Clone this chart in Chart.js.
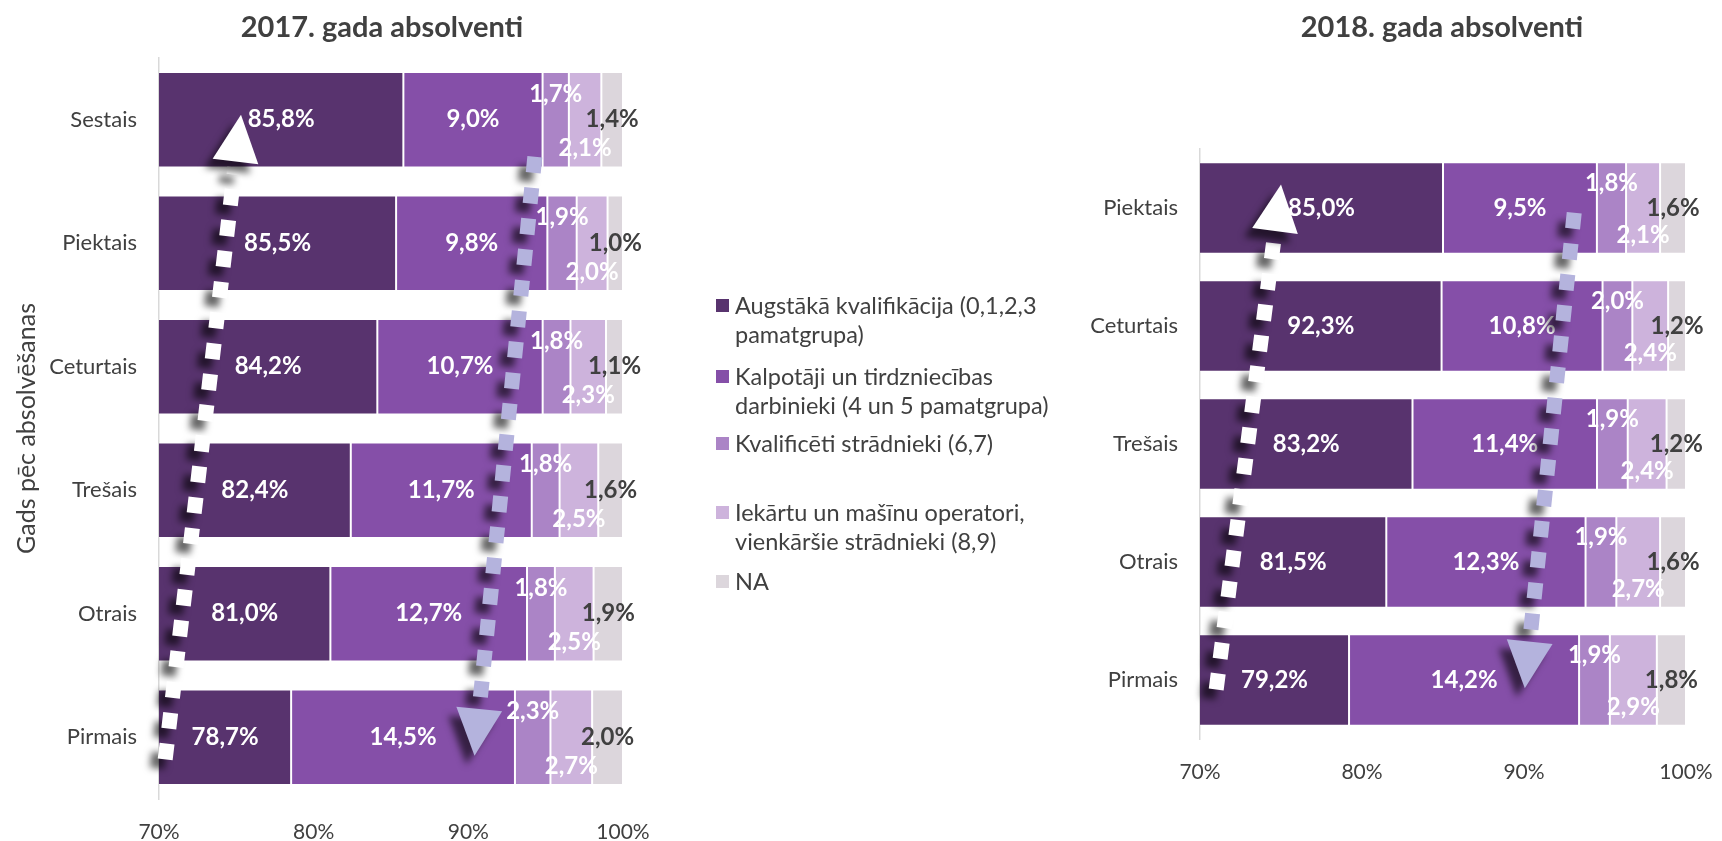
<!DOCTYPE html>
<html>
<head>
<meta charset="utf-8">
<script src="https://cdn.jsdelivr.net/npm/chart.js@4.4.1/dist/chart.umd.min.js"></script>
<style>
  body { margin: 0; background: #fff; font-family: Lato, sans-serif; }
  #wrap { position: relative; width: 1722px; height: 841px; overflow: hidden; }
  canvas { position: absolute; top: 0; }
  .title { position: absolute; top: 8px; font: bold 29px Lato; color: #404040; transform: translateX(-50%); white-space: nowrap; }
  .leg { position: absolute; left: 716px; font: 23.5px Lato; color: #404040; line-height: 29px; white-space: nowrap; }
  .leg i { position: absolute; left: 0; top: 8px; width: 13px; height: 13px; }
  .leg span { display: block; margin-left: 19px; }
</style>
</head>
<body>
<div id="wrap">
  <canvas id="chart2017" width="660" height="841" style="left:0"></canvas>
  <canvas id="chart2018" width="722" height="841" style="left:1000px"></canvas>
  <div class="title" style="left:382px">2017. gada absolventi</div>
  <div class="title" style="left:1442px">2018. gada absolventi</div>
  <div id="legend"></div>
</div>
<script>
// Series names and colours
const seriesNames = [
    'Augstākā kvalifikācija (0,1,2,3|pamatgrupa)',
    'Kalpotāji un tirdzniecības|darbinieki (4 un 5 pamatgrupa)',
    'Kvalificēti strādnieki (6,7)',
    'Iekārtu un mašīnu operatori,|vienkāršie strādnieki (8,9)',
    'NA'
];
const seriesColors = ['#58336e', '#854fa8', '#ab84c6', '#cdb3dc', '#dcd6dc'];

// 2017 graduates (top to bottom)
const categories2017 = ['Sestais', 'Piektais', 'Ceturtais', 'Trešais', 'Otrais', 'Pirmais'];
const augstaka2017 = [85.8, 85.5, 84.2, 82.4, 81.0, 78.7];
const kalpotaji2017 = [9.0, 9.8, 10.7, 11.7, 12.7, 14.5];
const kvalificeti2017 = [1.7, 1.9, 1.8, 1.8, 1.8, 2.3];
const iekartu2017 = [2.1, 2.0, 2.3, 2.5, 2.5, 2.7];
const na2017 = [1.4, 1.0, 1.1, 1.6, 1.9, 2.0];

// 2018 graduates (top to bottom)
const categories2018 = ['Piektais', 'Ceturtais', 'Trešais', 'Otrais', 'Pirmais'];
const augstaka2018 = [85.0, 92.3, 83.2, 81.5, 79.2];
const kalpotaji2018 = [9.5, 10.8, 11.4, 12.3, 14.2];
const kvalificeti2018 = [1.8, 2.0, 1.9, 1.9, 1.9];
const iekartu2018 = [2.1, 2.4, 2.4, 2.7, 2.9];
const na2018 = [1.6, 1.2, 1.2, 1.6, 1.8];

const xTicks = [70, 80, 90, 100];

// Trend arrows: [percent, category index] for start and tip
const whiteArrow2017 = [[70.4, 5.18], [75.3, -0.04]];
const blueArrow2017 = [[94.3, 0.3], [90.4, 5.15]];
const whiteArrow2018 = [[71.0, 4.08], [75.0, -0.2]];
const blueArrow2018 = [[93.1, 0.04], [90.05, 4.07]];

// Legend
const legendTops = [291, 362, 429, 498, 567];
document.getElementById('legend').innerHTML = seriesNames.map((name, i) =>
    '<div class="leg" style="top:' + legendTops[i] + 'px"><i style="background:' + seriesColors[i] + '"></i>' +
    name.split('|').map(t => '<span>' + t + '</span>').join('') + '</div>'
).join('');

function fmt(v) {
    return v.toFixed(1).replace('.', ',') + '%';
}

// Value labels, placed like the original
const labelPlugin = {
    id: 'valueLabels',
    afterDatasetsDraw(chart) {
        const ctx = chart.ctx;
        const area = chart.chartArea;
        ctx.save();
        ctx.font = 'bold 24px Lato';
        ctx.textAlign = 'center';
        ctx.textBaseline = 'middle';
        chart.data.datasets.forEach((ds, i) => {
            chart.getDatasetMeta(i).data.forEach((bar, j) => {
                const p = bar.getProps(['x', 'y', 'base', 'height'], true);
                let x = (Math.max(p.base, area.left) + p.x) / 2;
                let y = p.y;
                if (i === 2) y -= p.height * 0.27;
                if (i === 3) y += p.height * 0.30;
                ctx.fillStyle = i === 4 ? '#404040' : '#ffffff';
                ctx.fillText(fmt(ds.raw[j]), x, y);
            });
        });
        ctx.restore();
    }
};

function drawArrow(chart, pts, color) {
    const ctx = chart.ctx;
    const xs = chart.scales.x, ys = chart.scales.y;
    const x0 = xs.getPixelForValue(pts[0][0]), y0 = ys.getPixelForValue(pts[0][1]);
    const x1 = xs.getPixelForValue(pts[1][0]), y1 = ys.getPixelForValue(pts[1][1]);
    const len = Math.hypot(x1 - x0, y1 - y0);
    const ux = (x1 - x0) / len, uy = (y1 - y0) / len;
    const headLen = 47, headHalf = 23;
    const bx = x1 - ux * headLen, by = y1 - uy * headLen;
    ctx.save();
    ctx.shadowColor = 'rgba(0,0,0,0.6)';
    ctx.shadowBlur = 7;
    ctx.shadowOffsetX = -8;
    ctx.shadowOffsetY = 9;
    ctx.strokeStyle = color;
    ctx.fillStyle = color;
    ctx.lineWidth = 15;
    ctx.lineCap = 'butt';
    ctx.setLineDash([16, 15]);
    ctx.beginPath();
    ctx.moveTo(x0, y0);
    ctx.lineTo(bx - ux * 6, by - uy * 6);
    ctx.stroke();
    ctx.setLineDash([]);
    ctx.beginPath();
    ctx.moveTo(x1, y1);
    ctx.lineTo(bx - uy * headHalf, by + ux * headHalf);
    ctx.lineTo(bx + uy * headHalf, by - ux * headHalf);
    ctx.closePath();
    ctx.fill();
    ctx.restore();
}

function makeChart(id, cats, values, arrows, box) {
    const totals = cats.map((c, j) => values.reduce((s, v) => s + v[j], 0));
    return new Chart(document.getElementById(id), {
        type: 'bar',
        data: {
            labels: cats,
            datasets: values.map((v, i) => ({
                label: seriesNames[i].replace('|', ' '),
                data: v.map((val, j) => val / totals[j] * 100),
                raw: v,
                backgroundColor: seriesColors[i],
                borderColor: 'rgba(255,255,255,0.45)',
                borderWidth: 1,
                borderSkipped: false,
                categoryPercentage: 1,
                barPercentage: 0.775,
                clip: 0
            }))
        },
        options: {
            indexAxis: 'y',
            responsive: false,
            animation: false,
            layout: { padding: { top: box.top, right: box.right, left: 0, bottom: 0 } },
            plugins: {
                legend: { display: false },
                tooltip: { enabled: false }
            },
            scales: {
                x: {
                    stacked: true,
                    min: 70,
                    max: 100,
                    afterBuildTicks: s => { s.ticks = xTicks.map(v => ({ value: v })); },
                    ticks: { callback: v => v + '%', color: '#404040', font: { family: 'Lato', size: 21 }, padding: 13 },
                    grid: { display: false },
                    border: { display: false },
                    afterFit: s => {
                        s.height = box.xHeight;
                        s.paddingLeft = 0;
                        s.paddingRight = 0;
                    }
                },
                y: {
                    stacked: true,
                    grid: { display: false, drawTicks: false },
                    border: { display: true, color: '#d9d9d9', width: 1.5 },
                    ticks: { color: '#404040', font: { family: 'Lato', size: 22 }, padding: 22 },
                    title: {
                        display: box.yTitle,
                        text: 'Gads pēc absolvēšanas',
                        color: '#404040',
                        font: { family: 'Lato', size: 25 },
                        padding: { top: 12, bottom: 0 }
                    },
                    afterFit: s => { s.width = box.yWidth; }
                }
            }
        },
        plugins: [labelPlugin, {
            id: 'arrows',
            afterDraw(chart) {
                drawArrow(chart, arrows[0], '#ffffff');
                drawArrow(chart, arrows[1], '#b4b3dd');
            }
        }]
    });
}

makeChart('chart2017', categories2017,
    [augstaka2017, kalpotaji2017, kvalificeti2017, iekartu2017, na2017],
    [whiteArrow2017, blueArrow2017],
    { top: 58, right: 37, xHeight: 42, yWidth: 159, yTitle: true });

makeChart('chart2018', categories2018,
    [augstaka2018, kalpotaji2018, kvalificeti2018, iekartu2018, na2018],
    [whiteArrow2018, blueArrow2018],
    { top: 149, right: 36, xHeight: 102, yWidth: 200, yTitle: false });
</script>
</body>
</html>
